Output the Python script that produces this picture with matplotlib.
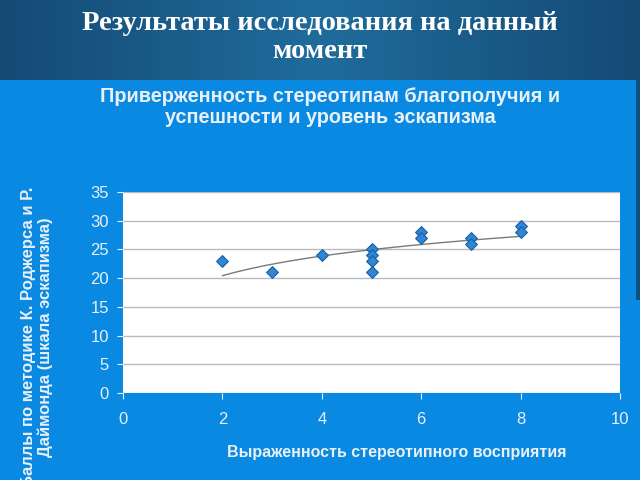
import numpy as np
import matplotlib
matplotlib.use("Agg")
import matplotlib.pyplot as plt

x_vals = [2, 3, 4, 5, 5, 5, 5, 6, 6, 7, 7, 8, 8]
y_vals = [23, 21, 24, 25, 24, 23, 21, 28, 27, 27, 26, 29, 28]
x_ticks = [0, 2, 4, 6, 8, 10]
y_ticks = [0, 5, 10, 15, 20, 25, 30, 35]

slide_title = "Результаты исследования на данный\nмомент"
chart_title = "Приверженность стереотипам благополучия и\nуспешности и уровень эскапизма"
x_label = "Выраженность стереотипного восприятия"
y_label = "Баллы по методике К. Роджерса и Р.\nДаймонда (шкала эскапизма)"

BG = "#0a89e2"
TXT = "#e8f0f8"

fig = plt.figure(figsize=(6.4, 4.8), dpi=100, facecolor=BG)

# header band with gradient
hax = fig.add_axes([0, 1 - 80 / 480, 1, 80 / 480])
grad = np.linspace(0, 1, 256)
prof = 1 - np.abs(grad - 0.5) * 2
c1 = np.array([0x15, 0x4a, 0x75]) / 255
c2 = np.array([0x1f, 0x6c, 0x9c]) / 255
img = c1[None, :] + (c2 - c1)[None, :] * prof[:, None]
hax.imshow(img[None, :, :], aspect="auto", extent=[0, 1, 0, 1])
hax.set_axis_off()
hax.text(0.5, 0.53, slide_title, ha="center", va="center", color="white",
         fontsize=20.5, fontweight="bold", family="Liberation Serif",
         linespacing=1.15, transform=hax.transAxes)

# right dark strip
sax = fig.add_axes([636 / 640, 180 / 480, 4 / 640, 220 / 480])
sax.set_facecolor("#0e4f80")
sax.set_xticks([]); sax.set_yticks([])
for s in sax.spines.values():
    s.set_visible(False)

ax = fig.add_axes([123 / 640, 1 - 393 / 480, (620 - 123) / 640, (393 - 192) / 480])
ax.set_facecolor("white")
ax.set_xlim(0, 10)
ax.set_ylim(0, 35)
ax.set_xticks(x_ticks)
ax.set_yticks(y_ticks)
ax.grid(axis="y", color="#b4bcc4", linewidth=1)
ax.set_axisbelow(True)
for s in ax.spines.values():
    s.set_visible(False)
ax.tick_params(colors=TXT, labelcolor=TXT, labelsize=12, length=4, width=0.8)
ax.tick_params(axis="x", pad=10)
ax.tick_params(axis="y", pad=6)
for lab in ax.get_xticklabels() + ax.get_yticklabels():
    lab.set_family("Liberation Sans")

# log trendline fitted from data
xa = np.array(x_vals, float)
ya = np.array(y_vals, float)
b, a = np.polyfit(np.log(xa), ya, 1)
xt = np.linspace(xa.min(), xa.max(), 100)
ax.plot(xt, a + b * np.log(xt), color="#7a7a7a", linewidth=1, zorder=2)

ax.scatter(x_vals, y_vals, marker="D", s=36, color="#2f86d4",
           edgecolors="#1a5f9e", linewidths=0.8, zorder=3)

fig.text(330 / 640, 1 - 107 / 480, chart_title, ha="center", va="center",
         color=TXT, fontsize=14.3, fontweight="bold", family="Liberation Sans",
         linespacing=1.1)
fig.text(397 / 640, 1 - 452 / 480, x_label, ha="center", va="center",
         color=TXT, fontsize=11.5, fontweight="bold", family="Liberation Sans")
fig.text(37 / 640, 1 - 337 / 480, y_label, ha="center", va="center",
         rotation=90, color=TXT, fontsize=12, fontweight="bold",
         family="Liberation Sans", linespacing=1.1)

fig.savefig("out.png", dpi=100, facecolor=BG)
